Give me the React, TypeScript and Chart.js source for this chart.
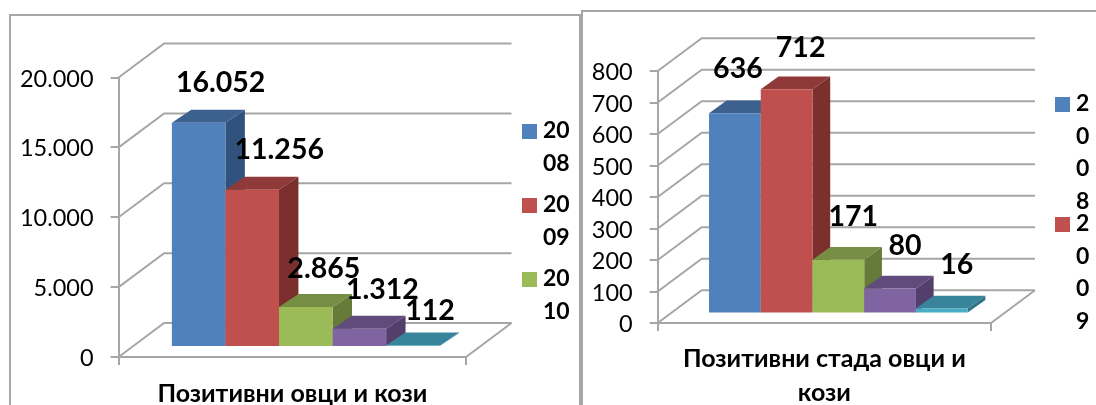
import React, { useEffect, useRef } from "react";
import { Chart, registerables } from "chart.js";

Chart.register(...registerables);

const years = ["2008", "2009", "2010", "2011", "2012"];
const sheepGoats = [16052, 11256, 2865, 1312, 112];
const flocks = [636, 712, 171, 80, 16];
const sheepCategory = ["Позитивни овци и кози"];
const flocksCategory = [["Позитивни стада овци и", "кози"]];
const frontColors = ["#4f81bd", "#c0504d", "#9bbb59", "#8064a2", "#4bacc6"];
const topColors = ["#3c618f", "#8f3a38", "#758e43", "#614b7c", "#38859b"];
const sideColors = ["#31527c", "#7c302e", "#667b3a", "#533f6c", "#2f7386"];

const FONT = "Lato, 'Open Sans', sans-serif";
const GRID = "#a6a6a6";

const fmt = (v: number) => String(v).replace(/\B(?=(\d{3})+$)/g, ".");

function chunk(s: string, n: number) {
  const out: string[] = [];
  for (let i = 0; i < s.length; i += n) out.push(s.slice(i, i + n));
  return out;
}

function makePlugin(p: any) {
  return {
    id: "threeD",
    beforeDatasetsDraw(chart: any) {
      const { ctx, scales } = chart;
      const { left, right } = chart.chartArea;
      const y0 = scales.y.getPixelForValue(0);
      ctx.save();
      ctx.strokeStyle = GRID;
      ctx.lineWidth = 2;
      scales.y.ticks.forEach((t: any) => {
        const py = scales.y.getPixelForValue(t.value);
        ctx.beginPath();
        ctx.moveTo(left, py);
        ctx.lineTo(left + p.wallX, py - p.wallY);
        ctx.lineTo(right + p.wallX, py - p.wallY);
        ctx.stroke();
      });
      ctx.beginPath();
      ctx.moveTo(left, y0);
      ctx.lineTo(right, y0);
      ctx.lineTo(right + p.wallX, y0 - p.wallY);
      ctx.stroke();
      ctx.restore();

      // bars: left to right, each with its depth faces, so a bar hides the side of the one before it
      ctx.save();
      ctx.translate(p.planeX, -p.planeY);
      chart.data.datasets.forEach((_: any, i: number) => {
        const meta = chart.getDatasetMeta(i);
        const el = meta.data[0];
        const x0 = el.x - el.width / 2;
        const x1 = el.x + el.width / 2;
        const y = el.y;
        const b = el.base;
        ctx.fillStyle = topColors[i];
        ctx.beginPath();
        ctx.moveTo(x0, y);
        ctx.lineTo(x0 + p.barX, y - p.barY);
        ctx.lineTo(x1 + p.barX, y - p.barY);
        ctx.lineTo(x1, y);
        ctx.closePath();
        ctx.fill();
        ctx.fillStyle = sideColors[i];
        ctx.beginPath();
        ctx.moveTo(x1, y);
        ctx.lineTo(x1 + p.barX, y - p.barY);
        ctx.lineTo(x1 + p.barX, b - p.barY);
        ctx.lineTo(x1, b);
        ctx.closePath();
        ctx.fill();
        meta.controller.draw();
      });
      ctx.restore();
      return false;
    },
    afterDraw(chart: any) {
      const { ctx } = chart;
      ctx.save();
      ctx.fillStyle = "#000";
      ctx.textAlign = "center";
      ctx.textBaseline = "middle";
      ctx.font = `bold ${p.labelSize}px ${FONT}`;
      chart.data.datasets.forEach((ds: any, i: number) => {
        const el = chart.getDatasetMeta(i).data[0];
        ctx.fillText(fmt(ds.data[0]), el.x + p.planeX + p.labelDx[i], el.y - p.planeY - p.labelDy[i]);
      });
      ctx.textAlign = "left";
      ctx.font = `bold ${p.legendSize}px ${FONT}`;
      for (let i = 0; i < p.legendCount; i++) {
        const lines = chunk(chart.data.datasets[i].label, p.legendChunk);
        const top = p.legendY + i * p.legendPitch;
        ctx.fillStyle = frontColors[i];
        ctx.fillRect(p.legendX, top, 15, 15);
        ctx.fillStyle = "#000";
        lines.forEach((ln: string, k: number) => {
          ctx.fillText(ln, p.legendX + 21, top + 7 + k * p.legendLine);
        });
      }
      ctx.restore();
    },
  };
}

function Panel({ values, category, max, step, p, style, width }: any) {
  const ref = useRef<HTMLCanvasElement>(null);
  useEffect(() => {
    const chart = new Chart(ref.current as HTMLCanvasElement, {
      type: "bar",
      data: {
        labels: category,
        datasets: years.map((y, i) => ({
          label: y,
          data: [values[i]],
          backgroundColor: frontColors[i],
          borderWidth: 0,
          clip: false,
          barPercentage: 1,
          categoryPercentage: p.catPct,
        })),
      } as any,
      options: {
        animation: false,
        responsive: false,
        devicePixelRatio: 1,
        layout: { padding: p.padding },
        plugins: { legend: { display: false }, title: { display: false }, tooltip: { enabled: false } },
        scales: {
          x: {
            grid: { drawOnChartArea: false, offset: true, tickLength: 8, color: GRID, lineWidth: 2 },
            border: { color: GRID, width: 2 },
            ticks: { color: "#000", font: { family: FONT, size: p.catSize, weight: "bold", lineHeight: 1.35 }, padding: p.catPad, maxRotation: 0, autoSkip: false },
            afterFit: (s: any) => { s.height = p.padding.xh; },
          },
          y: {
            min: 0,
            max,
            grid: { drawOnChartArea: false, tickLength: 8, color: GRID, lineWidth: 2 },
            border: { color: GRID, width: 2 },
            ticks: { stepSize: step, color: "#000", font: { family: FONT, size: p.tickSize }, padding: p.tickPad, labelOffset: 1.5, callback: (v: any) => fmt(v) },
            afterFit: (s: any) => { s.width = p.padding.yw; },
          },
        },
      } as any,
      plugins: [makePlugin(p)],
    });
    return () => chart.destroy();
  }, []);
  return <canvas ref={ref} width={width} height={405} style={{ position: "absolute", display: "block", ...style }} />;
}

const leftCfg = {
  padding: { left: 18.6, right: 115, top: 77.5, bottom: 0, yw: 100, xh: 48 },
  catPct: 0.771, catSize: 25, catPad: 12, tickSize: 23.5, tickPad: 17,
  wallX: 45.5, wallY: 34, planeX: 13.5, planeY: 10, barX: 19.4, barY: 13,
  labelSize: 28.5, labelDx: [22, 27, 18, 23, 17], labelDy: [40, 40, 38, 39, 35],
  legendSize: 23, legendCount: 3, legendChunk: 2, legendX: 522, legendY: 124, legendPitch: 74, legendLine: 32.5,
};
const rightCfg = {
  padding: { left: 0, right: 105, top: 71, bottom: 0, yw: 76.7, xh: 82 },
  catPct: 0.776, catSize: 25, catPad: 11, tickSize: 23.5, tickPad: 17,
  wallX: 44, wallY: 32.7, planeX: 14, planeY: 9.4, barX: 17.7, barY: 12.7,
  labelSize: 28.5, labelDx: [3, 14, 15, 15, 15], labelDy: [44, 42, 43, 43, 44],
  legendSize: 23, legendCount: 2, legendChunk: 1, legendX: 474, legendY: 97, legendPitch: 120, legendLine: 32.5,
};

export default function App() {
  return (
    <div style={{ position: "fixed", left: 0, top: 0, width: 1096, height: 405, overflow: "hidden", background: "#fff" }}>
      <div style={{ position: "absolute", left: 9, top: 14, width: 568, height: 420, border: "2px solid #a6a6a6" }} />
      <div style={{ position: "absolute", left: 581, top: 10, width: 540, height: 420, border: "2px solid #a6a6a6" }} />
      <Panel values={sheepGoats} category={sheepCategory} max={20000} step={5000} p={leftCfg} width={581} style={{ left: 0, top: 0 }} />
      <Panel values={flocks} category={flocksCategory} max={800} step={100} p={rightCfg} width={515} style={{ left: 581, top: 0 }} />
    </div>
  );
}
